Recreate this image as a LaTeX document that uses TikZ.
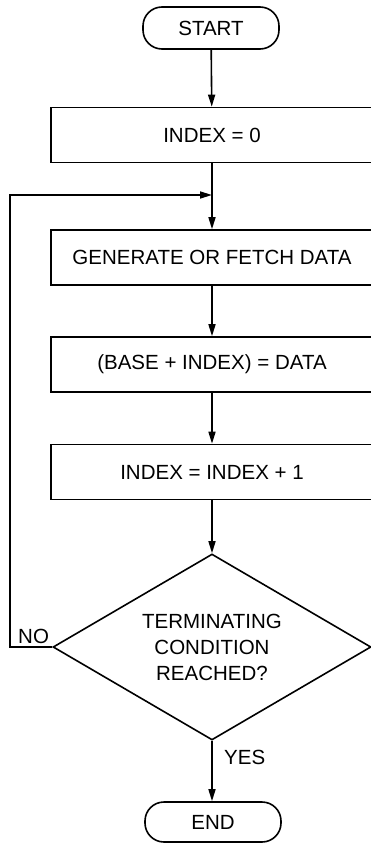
\documentclass[tikz,border=0pt]{standalone}
\usepackage{fontspec}
\setmainfont{Liberation Sans}
\usetikzlibrary{arrows.meta,shapes.geometric}
\tikzset{
  every node/.style={font=\fontsize{20.5}{26}\selectfont},
  term/.style={draw, line width=1.6pt, rounded corners=19pt, minimum width=136pt, minimum height=42pt, inner sep=0pt},
  procbox/.style={draw, line width=1.6pt, minimum width=322pt, minimum height=55pt, inner sep=0pt},
  decide/.style={draw, diamond, line width=1.6pt, aspect=1.7, minimum width=318pt, minimum height=186pt, inner sep=0pt, align=center},
  conn/.style={line width=1.6pt},
  arr/.style={conn, -{Triangle[length=12pt,width=7pt]}},
  lbl/.style={inner sep=0pt}
}
\begin{document}
\begin{tikzpicture}[x=1pt,y=-1pt]
\useasboundingbox (0,0) rectangle (370,843);
\node[term] (start) at (211,28) {START};
\node[procbox] (init) at (212,135) {INDEX = 0};
\coordinate (j) at (212,195);
\node[procbox] (gen) at (212,257.5) {GENERATE OR FETCH DATA};
\node[procbox] (base) at (212,364.5) {(BASE + INDEX) = DATA};
\node[procbox] (inc) at (212,472) {INDEX = INDEX + 1};
\node[decide] (dec) at (212,647) {TERMINATING\\CONDITION\\REACHED?};
\node[term, rounded corners=19pt, minimum height=40pt] (end) at (213,822) {END};
\node[lbl, anchor=west] (no) at (18,636) {NO};
\node[lbl, anchor=west] (yes) at (224,757) {YES};
\draw[arr] (start) -- (init);
\draw[conn] (init) -- (j);
\draw[arr] (j) -- (gen);
\draw[arr] (gen) -- (base);
\draw[arr] (base) -- (inc);
\draw[arr] (inc) -- (dec);
\draw[arr] (dec.west) -- (10,647) |- (j);
\draw[arr] (dec.south) -- (dec.south |- end.north);
\end{tikzpicture}
\end{document}
